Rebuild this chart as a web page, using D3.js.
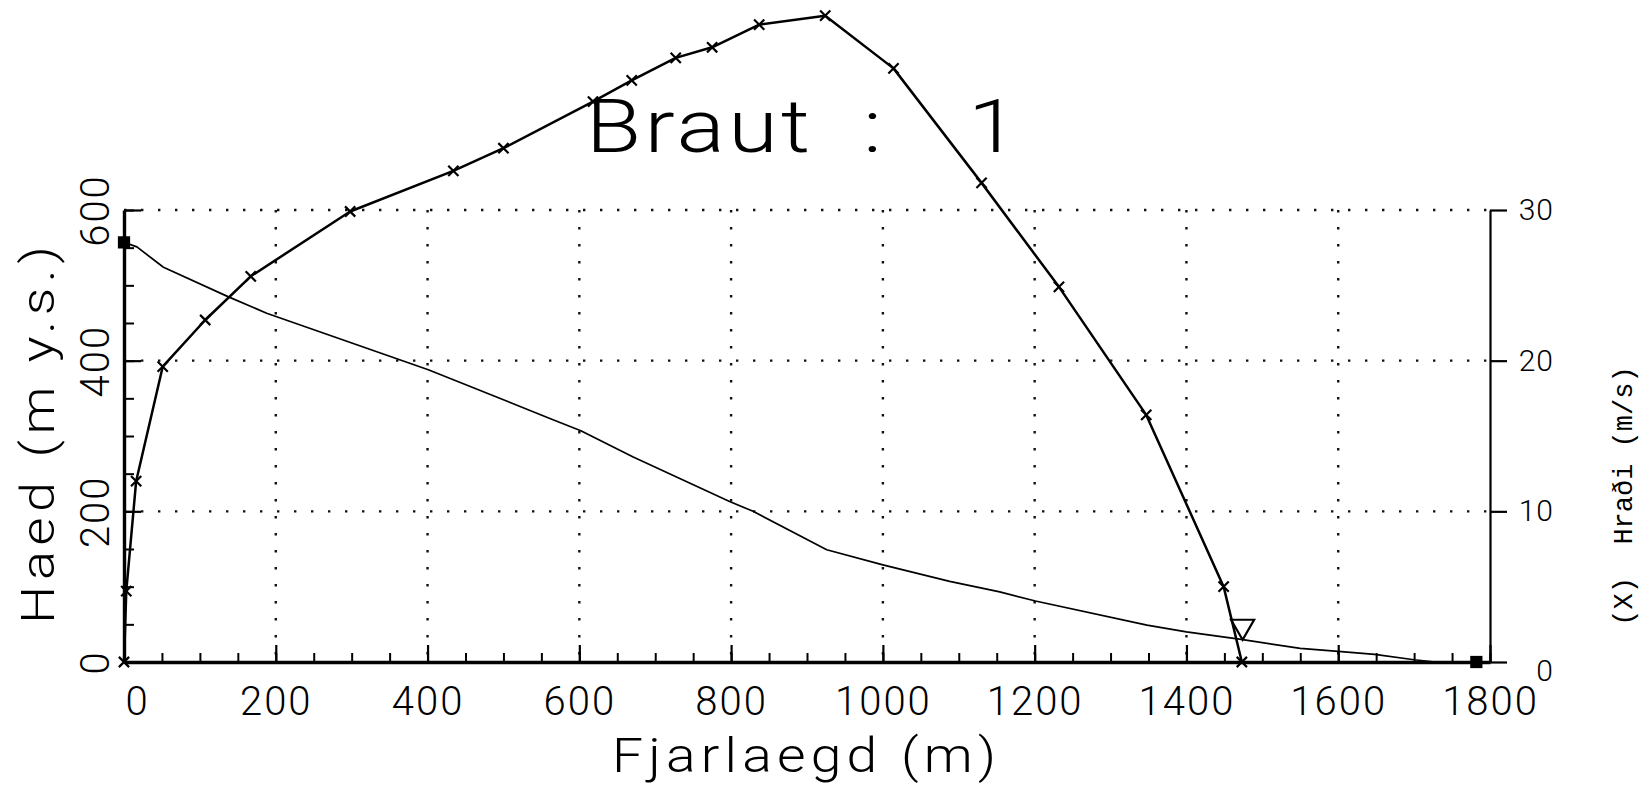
<!DOCTYPE html>
<html>
<head>
<meta charset="utf-8">
<script src="https://cdn.jsdelivr.net/npm/d3@7"></script>
<style>
  html, body { margin: 0; padding: 0; background: #fff; }
  svg { display: block; }
</style>
</head>
<body>
<svg id="chart" width="1642" height="794"></svg>
<script>
// ---------------- data ----------------
const xTicks = [0, 200, 400, 600, 800, 1000, 1200, 1400, 1600, 1800];
const xTickLabels = ["0", "200", "400", "600", "800", "1000", "1200", "1400", "1600", "1800"];
const yLeftTicks = [0, 200, 400, 600];
const yLeftTickLabels = ["0", "200", "400", "600"];
const yRightTicks = [0, 10, 20, 30];
const yRightTickLabels = ["0", "10", "20", "30"];

// elevation profile (Haed, m y.s.) vs distance (m)
const distElev = [0, 17, 52, 137, 188, 401, 562, 602, 671, 798, 829, 926, 1000, 1088, 1154, 1201, 1348, 1400, 1472, 1550, 1600, 1648, 1700, 1728, 1782];
const elev     = [557, 551, 524, 485, 463, 388, 323, 307, 272, 213, 200, 149, 129, 107, 93, 81, 49, 40, 30, 18, 14, 10, 3, 0, 0];

// speed (Hradi, m/s) vs distance (m), X markers
const distSpeed = [0, 3, 16, 51, 107, 167, 298, 434, 500, 618, 669, 727, 775, 837, 924, 1014, 1130, 1232, 1347, 1449, 1473];
const speed     = [0, 4.7, 12.0, 19.6, 22.7, 25.6, 29.9, 32.6, 34.1, 37.2, 38.6, 40.1, 40.8, 42.3, 42.9, 39.4, 31.8, 24.9, 16.4, 5.0, 0];

// end points of the profile (filled squares) and stop point (open triangle)
const endDist = [0, 1782];
const endElev = [557, 0];
const stopDist = [1474];
const stopElev = [30];

// ---------------- chart ----------------
const svg = d3.select("#chart");
const FONT = "Roboto, 'Liberation Sans', 'DejaVu Sans', sans-serif";

const x  = d3.scaleLinear().domain([0, 1800]).range([124, 1490]);
const yL = d3.scaleLinear().domain([0, 600]).range([662, 210]);
const yR = d3.scaleLinear().domain([0, 30]).range([662, 210]);

// dotted grid
const grid = svg.append("g")
  .attr("stroke", "#111").attr("stroke-width", 2.4)
  .attr("stroke-dasharray", "2.4,14.6").attr("fill", "none");
grid.selectAll("line.v").data(xTicks.filter(v => v > 0 && v < 1800)).join("line")
  .attr("class", "v")
  .attr("x1", d => x(d)).attr("x2", d => x(d))
  .attr("y1", yL(600)).attr("y2", yL(0));
grid.selectAll("line.h").data(yLeftTicks.filter(v => v > 0)).join("line")
  .attr("class", "h")
  .attr("x1", x(0)).attr("x2", x(1800))
  .attr("y1", d => yL(d)).attr("y2", d => yL(d));

// elevation line
const elevPts = distElev.map((d, i) => [d, elev[i]]);
svg.append("path")
  .datum(elevPts)
  .attr("fill", "none").attr("stroke", "#000").attr("stroke-width", 1.7)
  .attr("stroke-linejoin", "round")
  .attr("d", d3.line().x(d => x(d[0])).y(d => yL(d[1])));

// speed line
const speedPts = distSpeed.map((d, i) => [d, speed[i]]);
svg.append("path")
  .datum(speedPts)
  .attr("fill", "none").attr("stroke", "#000").attr("stroke-width", 2.5)
  .attr("stroke-linejoin", "round")
  .attr("d", d3.line().x(d => x(d[0])).y(d => yR(d[1])));

// X markers
const symX = d3.symbolX || {
  draw(ctx, size) {
    const r = Math.sqrt(size - Math.min(size / 6, 1.7)) * 0.6189;
    ctx.moveTo(-r, -r); ctx.lineTo(r, r); ctx.moveTo(-r, r); ctx.lineTo(r, -r);
  }
};
svg.append("g").selectAll("path").data(speedPts).join("path")
  .attr("transform", d => `translate(${x(d[0])},${yR(d[1])})`)
  .attr("d", d3.symbol(symX, 70))
  .attr("fill", "none").attr("stroke", "#000").attr("stroke-width", 2.2);

// ---------------- axes ----------------
function styleAxis(g, size) {
  g.attr("font-family", FONT).attr("font-size", size).attr("font-weight", 300);
  g.selectAll(".tick line").attr("stroke", "#000").attr("stroke-width", 2.2);
}

// bottom minor ticks
svg.append("g").attr("transform", `translate(0,${yL(0)})`)
  .call(d3.axisBottom(x).tickValues(d3.range(0, 1801, 50)).tickSizeInner(-9).tickSizeOuter(0).tickFormat(""))
  .call(g => g.select(".domain").remove())
  .call(g => g.selectAll(".tick line").attr("stroke", "#000").attr("stroke-width", 2));

// bottom major ticks + labels
const xAxisG = svg.append("g").attr("transform", `translate(0,${yL(0)})`)
  .call(d3.axisBottom(x).tickValues(xTicks).tickSizeInner(-17).tickSizeOuter(0)
        .tickPadding(25).tickFormat((d, i) => xTickLabels[i]));
styleAxis(xAxisG, 40);
xAxisG.select(".domain").attr("stroke", "#000").attr("stroke-width", 3.6);
xAxisG.selectAll(".tick text").attr("letter-spacing", 2);
xAxisG.selectAll(".tick text").filter(d => d === 0).attr("x", 13);

// left minor ticks
svg.append("g").attr("transform", `translate(${x(0)},0)`)
  .call(d3.axisLeft(yL).tickValues(d3.range(0, 601, 50)).tickSizeInner(-10).tickSizeOuter(0).tickFormat(""))
  .call(g => g.select(".domain").remove())
  .call(g => g.selectAll(".tick line").attr("stroke", "#000").attr("stroke-width", 2));

// left major ticks + labels (rotated)
const yLAxisG = svg.append("g").attr("transform", `translate(${x(0)},0)`)
  .call(d3.axisLeft(yL).tickValues(yLeftTicks).tickSizeInner(-17).tickSizeOuter(0)
        .tickFormat((d, i) => yLeftTickLabels[i]));
styleAxis(yLAxisG, 40);
yLAxisG.select(".domain").attr("stroke", "#000").attr("stroke-width", 3.4);
yLAxisG.selectAll(".tick text")
  .attr("x", null).attr("dy", null).attr("text-anchor", "middle")
  .attr("letter-spacing", 2)
  .attr("transform", "translate(-15,0) rotate(-90)");

// right axis
const yRAxisG = svg.append("g").attr("transform", `translate(${x(1800)},0)`)
  .call(d3.axisRight(yR).tickValues(yRightTicks).tickSizeInner(17).tickSizeOuter(0)
        .tickFormat((d, i) => yRightTickLabels[i]));
styleAxis(yRAxisG, 30);
yRAxisG.select(".domain").attr("stroke", "#000").attr("stroke-width", 2.2);
yRAxisG.selectAll(".tick text").attr("x", 64).attr("text-anchor", "end").attr("letter-spacing", 1);
yRAxisG.selectAll(".tick text").filter(d => d === 0).attr("dy", "0.6em");

// end squares
svg.append("g").selectAll("path").data(endDist.map((d, i) => [d, endElev[i]])).join("path")
  .attr("transform", d => `translate(${x(d[0])},${yL(d[1])})`)
  .attr("d", d3.symbol(d3.symbolSquare, 150))
  .attr("fill", "#000");

// stop triangle (open, pointing down, tip on the profile)
svg.append("g").selectAll("path").data(stopDist.map((d, i) => [d, stopElev[i]])).join("path")
  .attr("transform", d => `translate(${x(d[0])},${yL(d[1]) - 13}) rotate(180)`)
  .attr("d", d3.symbol(d3.symbolTriangle, 230))
  .attr("fill", "none").attr("stroke", "#000").attr("stroke-width", 2.2);

// ---------------- titles ----------------
const SX = 1.2;
const title = svg.append("text")
  .attr("font-family", FONT).attr("font-weight", 300).attr("font-size", 75)
  .attr("transform", `translate(0,152) scale(${SX},1)`).attr("fill", "#000");
title.append("tspan").attr("x", 586 / SX).attr("textLength", 224 / SX).attr("lengthAdjust", "spacing").text("Braut");
title.append("tspan").attr("x", 882 / SX).attr("text-anchor", "end").text(" :");
title.append("tspan").attr("x", 1018 / SX).attr("text-anchor", "end").text(" 1");

const SXL = 1.15;
svg.append("text")
  .attr("font-family", FONT).attr("font-weight", 300).attr("font-size", 48)
  .attr("transform", `translate(804,772) scale(${SXL},1)`)
  .attr("text-anchor", "middle")
  .attr("textLength", 384 / SXL).attr("lengthAdjust", "spacing")
  .text("Fjarlaegd (m)");

svg.append("text")
  .attr("font-family", FONT).attr("font-weight", 300).attr("font-size", 47)
  .attr("text-anchor", "middle")
  .attr("transform", `translate(54,435) rotate(-90) scale(${SXL},1)`)
  .attr("textLength", 378 / SXL).attr("lengthAdjust", "spacing")
  .text("Haed (m y.s.)");

svg.append("text")
  .attr("font-family", "'Liberation Mono', 'DejaVu Sans Mono', monospace")
  .attr("font-size", 27)
  .attr("text-anchor", "middle")
  .style("white-space", "pre")
  .attr("transform", "translate(1632,496) rotate(-90)")
  .text("(X)  Hraði (m/s)");
</script>
</body>
</html>
